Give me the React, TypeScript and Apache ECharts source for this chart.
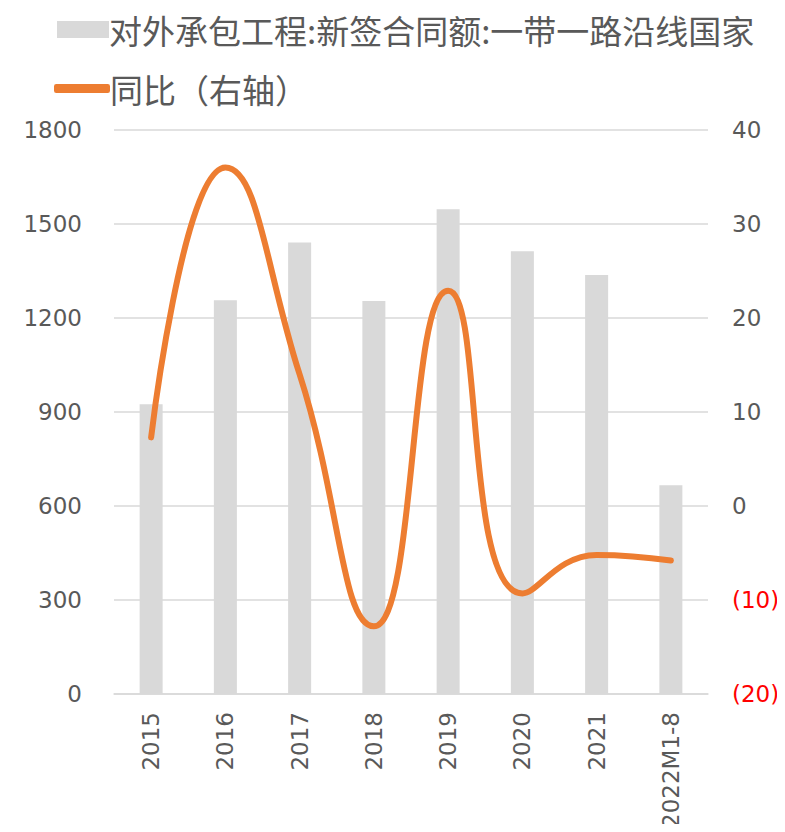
import React, { useEffect, useRef } from "react";
import * as echarts from "echarts";

const categories = ["2015", "2016", "2017", "2018", "2019", "2020", "2021", "2022M1-8"];
const contractValues = [925, 1257, 1441, 1254, 1547, 1413, 1337, 666];
const yoyValues = [7.3, 36.0, 14.0, -12.8, 22.9, -9.3, -5.2, -5.8];
const leftTicks = { min: 0, max: 1800, interval: 300 };
const rightTicks = { min: -20, max: 40, interval: 10 };

const barName = "对外承包工程:新签合同额:一带一路沿线国家";
const lineName = "同比（右轴）";

const numFont = "'DejaVu Sans', Verdana, sans-serif";
const cjkFont = "'Noto Sans CJK SC', 'Noto Sans', sans-serif";

export default function App() {
  const ref = useRef<HTMLDivElement>(null);
  useEffect(() => {
    if (!ref.current) return;
    const chart = echarts.init(ref.current, undefined, { renderer: "svg" });
    const legendText = {
      fontSize: 33,
      color: "#595959",
      fontFamily: cjkFont,
      padding: [0, 0, 10, -5],
    };
    chart.setOption({
      animation: false,
      backgroundColor: "#ffffff",
      legend: [
        {
          data: [{ name: barName, icon: "rect" }],
          left: 52,
          top: 8,
          itemWidth: 52,
          itemHeight: 17,
          textStyle: legendText,
        },
        {
          data: [{ name: lineName, icon: "roundRect" }],
          left: 49,
          top: 67,
          itemWidth: 56,
          itemHeight: 9,
          textStyle: legendText,
        },
      ],
      grid: { left: 114, right: 77, top: 130, bottom: 138, containLabel: false },
      xAxis: {
        type: "category",
        data: categories,
        axisLine: { lineStyle: { color: "#D9D9D9", width: 1.5 } },
        axisTick: { show: false },
        axisLabel: {
          rotate: 90,
          margin: 18,
          fontSize: 23,
          color: "#595959",
          fontFamily: numFont,
          interval: 0,
        },
      },
      yAxis: [
        {
          type: "value",
          min: leftTicks.min,
          max: leftTicks.max,
          interval: leftTicks.interval,
          axisLine: { show: false },
          axisTick: { show: false },
          splitLine: { lineStyle: { color: "#D9D9D9", width: 1.5 } },
          axisLabel: {
            fontSize: 23,
            color: "#595959",
            fontFamily: numFont,
            margin: 32,
            formatter: (v: number) => `${v}`,
          },
        },
        {
          type: "value",
          min: rightTicks.min,
          max: rightTicks.max,
          interval: rightTicks.interval,
          axisLine: { show: false },
          axisTick: { show: false },
          splitLine: { show: false },
          axisLabel: {
            fontSize: 23,
            fontFamily: numFont,
            margin: 24,
            formatter: (v: number) => (v < 0 ? `(${-v})` : `${v}`),
            color: (v: any) => (Number(v) < 0 ? "#FF0000" : "#595959"),
          },
        },
      ],
      series: [
        {
          name: barName,
          type: "bar",
          data: contractValues,
          barWidth: 23,
          itemStyle: { color: "#D9D9D9" },
          yAxisIndex: 0,
        },
        {
          name: lineName,
          type: "line",
          data: yoyValues,
          yAxisIndex: 1,
          smooth: 0.5,
          symbol: "none",
          lineStyle: { color: "#ED7D31", width: 6, cap: "round" },
          itemStyle: { color: "#ED7D31" },
        },
      ],
    });
    return () => chart.dispose();
  }, []);
  return <div ref={ref} style={{ width: 785, height: 832, margin: -8 }} />;
}
